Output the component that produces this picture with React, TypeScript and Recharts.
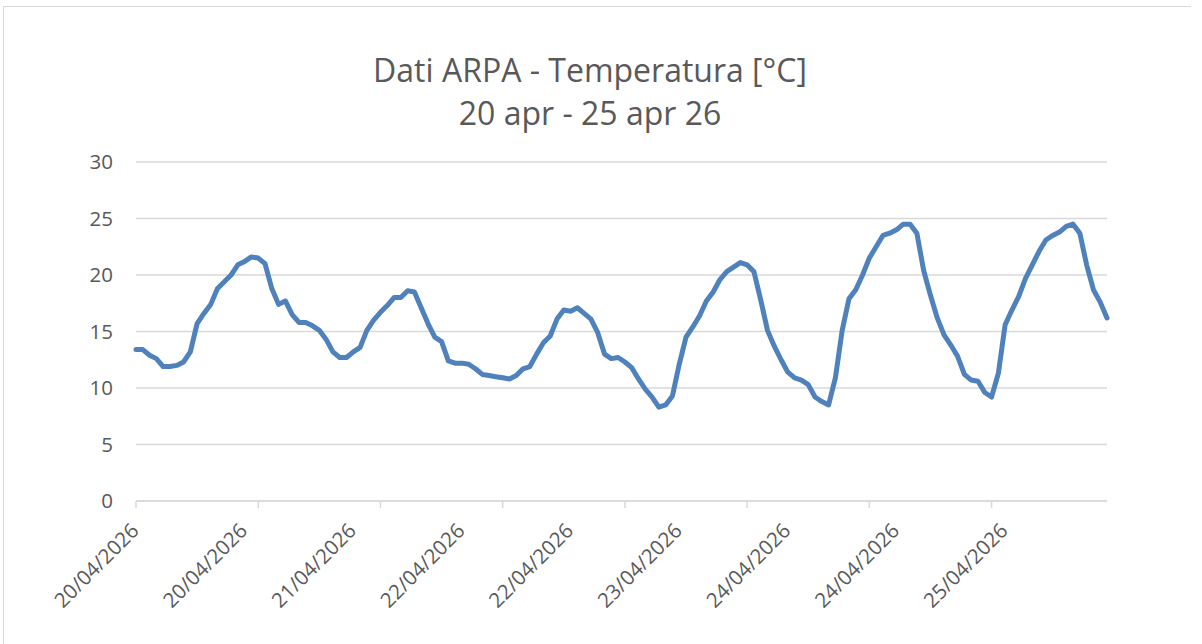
import { LineChart, Line, XAxis, YAxis, CartesianGrid } from "recharts";

// hourly readings, 20/04/2026 00:00 -> 25/04/2026 23:00
const temps = [
  13.4, 13.4, 12.9, 12.6, 11.9, 11.9, 12.0, 12.3, 13.2, 15.7,
  16.6, 17.4, 18.8, 19.4, 20.0, 20.9, 21.2, 21.6, 21.5, 21.0,
  18.8, 17.4, 17.7, 16.5, 15.8, 15.8, 15.5, 15.1, 14.3, 13.2,
  12.7, 12.7, 13.2, 13.6, 15.1, 16.0, 16.7, 17.3, 18.0, 18.0,
  18.6, 18.5, 17.1, 15.7, 14.5, 14.1, 12.4, 12.2, 12.2, 12.1,
  11.7, 11.2, 11.1, 11.0, 10.9, 10.8, 11.1, 11.7, 11.9, 13.0,
  14.0, 14.6, 16.1, 16.9, 16.8, 17.1, 16.6, 16.1, 14.9, 13.0,
  12.6, 12.7, 12.3, 11.8, 10.8, 9.9, 9.2, 8.3, 8.5, 9.3,
  12.1, 14.5, 15.4, 16.4, 17.7, 18.5, 19.6, 20.3, 20.7, 21.1,
  20.9, 20.3, 17.8, 15.1, 13.7, 12.5, 11.4, 10.9, 10.7, 10.3,
  9.2, 8.8, 8.5, 10.9, 15.1, 17.9, 18.7, 20.0, 21.5, 22.5,
  23.5, 23.7, 24.0, 24.5, 24.5, 23.7, 20.4, 18.2, 16.2, 14.7,
  13.8, 12.8, 11.2, 10.7, 10.6, 9.6, 9.2, 11.3, 15.6, 16.9,
  18.1, 19.7, 20.9, 22.1, 23.1, 23.5, 23.8, 24.3, 24.5, 23.7,
  20.9, 18.7, 17.6, 16.2,
];

// one label every 16 hours, one tick mark every 18 hours (as in the sheet)
const xLabels = [
  "20/04/2026", "20/04/2026", "21/04/2026", "22/04/2026", "22/04/2026",
  "23/04/2026", "24/04/2026", "24/04/2026", "25/04/2026",
];
const LABEL_STEP = 16;
const TICK_STEP = 18;

const yTicks = [0, 5, 10, 15, 20, 25, 30];

const data = temps.map((t, i) => ({ i, t }));
const xTicks = data.map((d) => d.i).filter((i) => i % LABEL_STEP === 0 || i % TICK_STEP === 0);

const FONT = "'Open Sans', sans-serif";
const TEXT = "#595959";
const GRID = "#d9d9d9";

const XTick = ({ x, y, payload }: any) => {
  const i = payload.value;
  const lx = x + 4;
  const ly = y + 31;
  return (
    <g>
      {i % TICK_STEP === 0 && <line x1={x} x2={x} y1={y} y2={y + 7} stroke={GRID} strokeWidth={1.5} />}
      {i % LABEL_STEP === 0 && (
        <text x={lx} y={ly} textAnchor="end" transform={`rotate(-45 ${lx} ${ly})`} fill={TEXT} fontSize={20.5} fontFamily={FONT}>
          {xLabels[i / LABEL_STEP]}
        </text>
      )}
    </g>
  );
};

export default function App() {
  return (
    <div style={{ position: "absolute", left: 0, top: 0, width: 1202, height: 644, overflow: "hidden", background: "#fff" }}>
      <div style={{ position: "absolute", left: 3, top: 6, width: 1187, height: 700, borderTop: `1.5px solid ${GRID}`, borderLeft: `1.5px solid ${GRID}` }} />
      <div style={{ position: "absolute", left: 0, top: 48, width: 1180, textAlign: "center", fontFamily: FONT, fontSize: 32, lineHeight: "43px", color: TEXT }}>
        Dati ARPA - Temperatura [°C]
        <br />
        20 apr - 25 apr 26
      </div>
      <div style={{ position: "absolute", left: 0, top: 0 }}>
        <LineChart width={1202} height={644} data={data} margin={{ top: 162, right: 95, bottom: 113, left: 76 }}>
          <CartesianGrid vertical={false} stroke={GRID} strokeWidth={1.5} />
          <XAxis
            dataKey="i"
            type="number"
            domain={[0, temps.length - 1]}
            ticks={xTicks}
            interval={0}
            height={30}
            tickSize={0}
            tickMargin={0}
            tickLine={false}
            axisLine={{ stroke: GRID, strokeWidth: 1.5 }}
            tick={<XTick />}
          />
          <YAxis
            domain={[0, 30]}
            ticks={yTicks}
            width={60}
            tickSize={0}
            tickMargin={23}
            tickLine={false}
            axisLine={false}
            tick={{ fill: TEXT, fontSize: 20.5, fontFamily: FONT }}
          />
          <Line
            type="linear"
            dataKey="t"
            stroke="#4F81BD"
            strokeWidth={5}
            strokeLinejoin="round"
            strokeLinecap="round"
            dot={false}
            isAnimationActive={false}
          />
        </LineChart>
      </div>
    </div>
  );
}
